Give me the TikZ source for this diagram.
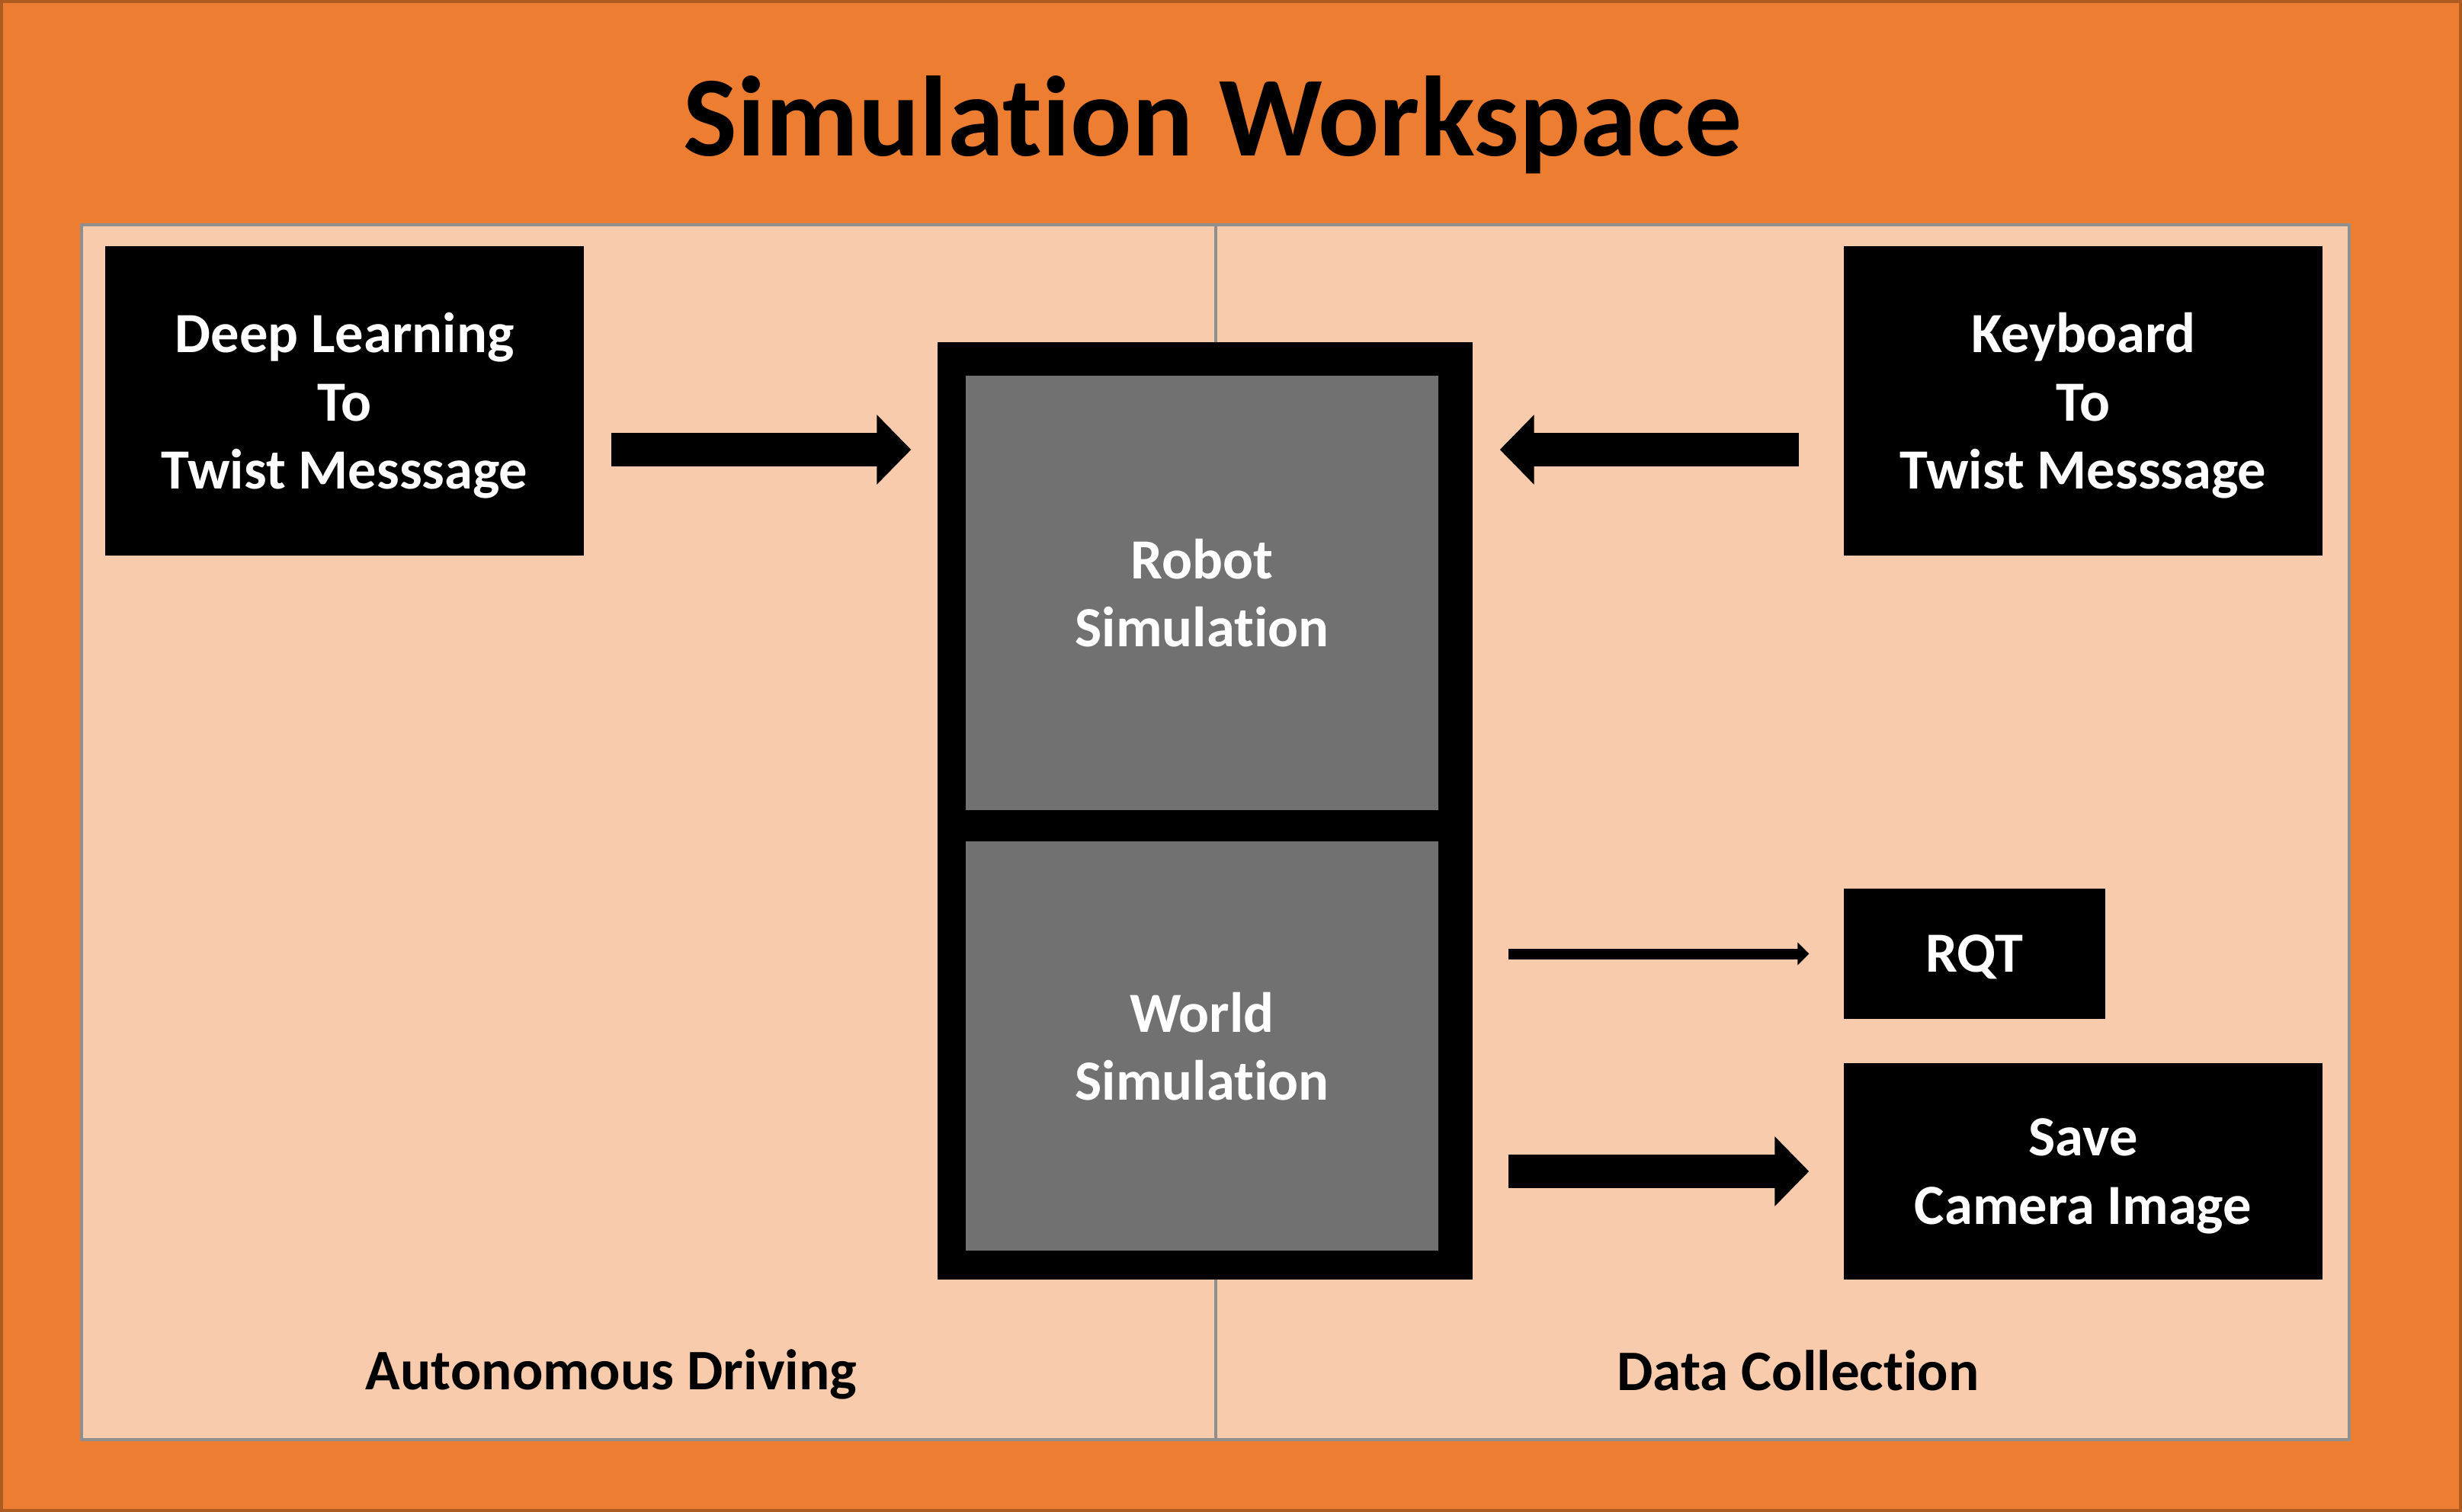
\documentclass[tikz,border=0pt]{standalone}
\usepackage{fontspec}
\setmainfont{Carlito}[Ligatures=NoCommon]
\usetikzlibrary{arrows.meta}
\definecolor{deskorange}{HTML}{ED7D31}
\definecolor{deskedge}{HTML}{AE5A21}
\definecolor{panelfill}{HTML}{F8CBAD}
\definecolor{paneledge}{HTML}{8F8F8F}
\definecolor{simgray}{HTML}{717171}
\tikzset{
  panel/.style={fill=panelfill, draw=paneledge, line width=1pt},
  blackbox/.style={fill=black, text=white, inner sep=0pt, align=center, text depth=0pt,
                   font=\bfseries\fontsize{21.2}{25.4}\selectfont},
  simbox/.style={blackbox, fill=simgray},
  sidelabel/.style={anchor=base, font=\bfseries\fontsize{21.4}{25.4}\selectfont},
  fatarrow/.style={line width=4.4mm, -{Triangle[length=4.5mm, width=8.9mm]}},
  thinarrow/.style={line width=1.4mm, -{Triangle[length=1.5mm, width=2.9mm]}},
}

\begin{document}
\begin{tikzpicture}
    \useasboundingbox (0,0) rectangle (32.30,-19.84);
    \fill[deskorange] (0,0) rectangle (32.30,-19.84);
    \draw[deskedge, line width=0.8mm] (0,0) rectangle (32.30,-19.84);
    \node[anchor=base, font=\bfseries\fontsize{42.6}{50}\selectfont] (title) at (15.91,-2.05) {Simulation Workspace};

    % the two halves of the workspace
    \draw[panel] (1.07,-2.95) rectangle (15.95,-18.89);
    \draw[panel] (15.95,-2.95) rectangle (30.82,-18.89);
    \node[sidelabel] (driving) at (8.02,-18.23) {Autonomous Driving};
    \node[sidelabel] (collect) at (23.59,-18.24) {Data Collection};

    \node[blackbox, minimum width=70.2mm, minimum height=123mm] (sim) at (15.81,-10.64) {};
    \node[simbox, minimum width=62mm, minimum height=57mm] (robot) at (15.77,-7.78) {Robot\\Simulation};
    \node[simbox, minimum width=62mm, minimum height=53.7mm] (world) at (15.77,-13.725) {World\\Simulation};

    \node[blackbox, minimum width=62.8mm, minimum height=40.6mm] (deep) at (4.52,-5.26) {Deep Learning\\To\\Twist Messsage};
    \node[blackbox, minimum width=62.8mm, minimum height=40.6mm] (keys) at (27.33,-5.26) {Keyboard\\To\\Twist Messsage};
    \node[blackbox, minimum width=34.3mm, minimum height=17.1mm] (rqt) at (25.905,-12.515) {RQT};
    \node[blackbox, minimum width=62.8mm, minimum height=28.4mm] (save) at (27.33,-15.37) {Save\\Camera Image};

    \path ([yshift=-6.4mm]deep.east) coordinate (deepout);
    \path ([yshift=-6.4mm]keys.west) coordinate (keysout);
    \draw[fatarrow, shorten <=3.5mm, shorten >=3.4mm] (deepout) -- (deepout -| sim.west);
    \draw[fatarrow, shorten <=5.8mm, shorten >=3.5mm] (keysout) -- (keysout -| sim.east);
    \draw[thinarrow, shorten <=4.6mm, shorten >=4.5mm] (sim.east |- rqt.west) -- (rqt.west);
    \draw[fatarrow, shorten <=4.6mm, shorten >=4.5mm] (sim.east |- save.west) -- (save.west);
\end{tikzpicture}
\end{document}
